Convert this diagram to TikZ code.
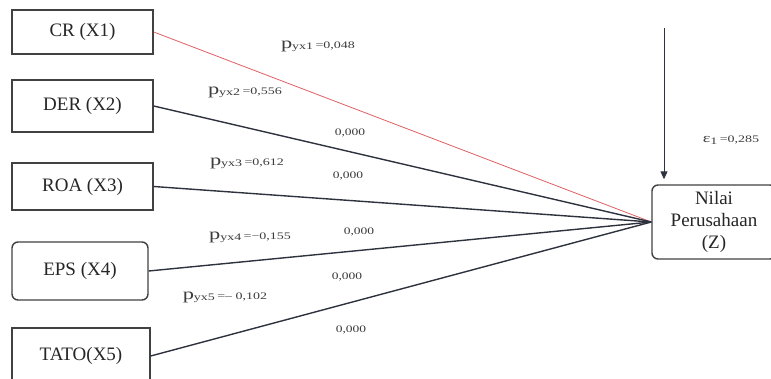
\documentclass[tikz,border=0pt]{standalone}
\usepackage{fontspec}
\setmainfont{Liberation Serif}
\usetikzlibrary{arrows.meta}
\definecolor{boxborder}{RGB}{65,65,65}
\definecolor{pathline}{RGB}{45,50,62}
\definecolor{crline}{RGB}{222,95,100}
\definecolor{labeltext}{RGB}{60,60,60}

% path coefficient and significance labels
\newcommand{\pcoef}[2]{\scalebox{1.4}[1]{{\fontsize{16}{16}\selectfont p}\raisebox{-1pt}{\fontsize{10}{10}\selectfont yx#1}{\fontsize{10}{10}\selectfont\,=#2}}}
\newcommand{\sigval}[1]{\scalebox{1.35}[1]{\fontsize{10}{10}\selectfont #1}}

\begin{document}
\begin{tikzpicture}[x=1pt, y=-1pt,
    >={Triangle[length=8pt, width=7pt]},
    varbox/.style={draw=boxborder, line width=1.4pt, fill=white, text=black!85, font=\fontsize{19}{22}\selectfont, inner sep=0pt},
    label/.style={text=labeltext, inner sep=1pt}
]
\useasboundingbox (0,0) rectangle (771,379);

% Independent variables
\node[varbox, minimum width=141pt, minimum height=44pt] (cr) at (82.5,32) {CR (X1)};
\node[varbox, minimum width=141pt, minimum height=52pt] (der) at (82.5,106) {DER (X2)};
\node[varbox, minimum width=141pt, minimum height=47pt] (roa) at (82.5,186.5) {ROA (X3)};
\node[varbox, rounded corners=6pt, minimum width=136pt, minimum height=58pt] (eps) at (80,271) {EPS (X4)};
\node[varbox, minimum width=138pt, minimum height=56pt] (tato) at (81,356) {TATO(X5)};

% Dependent variable
\node[varbox, rounded corners=6pt, align=center, minimum width=124pt, minimum height=74pt] (z) at (714,222) {Nilai\\Perusahaan\\(Z)};

% Paths
\draw[crline, line width=0.8pt] (cr.east) -- (z.west);
\draw[pathline, line width=1.4pt] (der.east) -- (z.west);
\draw[pathline, line width=1.4pt] (roa.east) -- (z.west);
\draw[pathline, line width=1.4pt] (eps.east) -- (z.west);
\draw[pathline, line width=1.4pt] (tato.east) -- (z.west);

% Residual
\coordinate (etop) at (664,28);
\draw[pathline, line width=1pt, ->, shorten >=5pt] (etop) -- (etop |- z.north);
\node[label] (e1) at (731,140) {\scalebox{1.4}[1]{{\fontsize{13}{13}\selectfont ε}\raisebox{-2pt}{\fontsize{10}{10}\selectfont 1}{\fontsize{10}{10}\selectfont\,=0,285}}};

% Coefficients
\node[label] (p1) at (318,46) {\pcoef{1}{0,048}};
\node[label] (p2) at (245,92) {\pcoef{2}{0,556}};
\node[label] (p3) at (247,163) {\pcoef{3}{0,612}};
\node[label] (p4) at (250,237) {\pcoef{4}{−0,155}};
\node[label] (p5) at (225,297) {\pcoef{5}{– 0,102}};

% Significance
\node[label] (s2) at (350,133) {\sigval{0,000}};
\node[label] (s3) at (348,176) {\sigval{0,000}};
\node[label] (s4) at (359,232) {\sigval{0,000}};
\node[label] (s5) at (347,277) {\sigval{0,000}};
\node[label] (s6) at (351,330) {\sigval{0,000}};

\end{tikzpicture}
\end{document}
